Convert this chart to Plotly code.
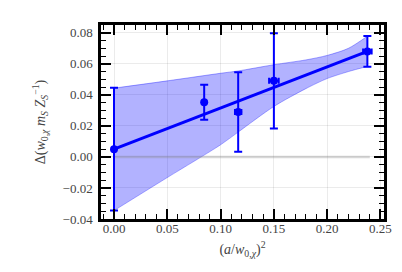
import plotly.graph_objects as go

# data points
x_pts = [0.0, 0.0846, 0.1165, 0.150, 0.2377]
y_pts = [0.005, 0.0352, 0.029, 0.049, 0.068]
y_err = [0.0395, 0.0113, 0.0256, 0.0307, 0.0099]
x_err = [0.0, 0.0, 0.003, 0.0045, 0.004]

# fit line
fit_x = [0.0, 0.2377]
fit_y = [0.005, 0.068]

# fit band
band_x = [0.0, 0.05, 0.10, 0.1165, 0.15, 0.18, 0.20, 0.22, 0.2377]
band_hi = [0.0443, 0.0490, 0.0539, 0.0554, 0.0594, 0.0625, 0.0654, 0.0700, 0.0778]
band_lo = [-0.0346, -0.0133, 0.0078, 0.0160, 0.0325, 0.0440, 0.0505, 0.0550, 0.0583]

# zero reference line
zero_x = [0.0, 0.24]
zero_y = [0.0, 0.0]

x_range = [-0.0122, 0.2533]
y_range = [-0.04, 0.085]

BLUE = "#0000ff"
FONT = "Liberation Serif, DejaVu Serif, serif"

fig = go.Figure()

fig.add_trace(go.Scatter(x=band_x, y=band_lo, mode="lines",
                         line=dict(color="rgba(0,0,255,0.3)", width=1,
                                   shape="spline", smoothing=0.8),
                         showlegend=False, hoverinfo="skip"))
fig.add_trace(go.Scatter(x=band_x, y=band_hi, mode="lines", fill="tonexty",
                         fillcolor="rgba(0,0,255,0.3)",
                         line=dict(color="rgba(0,0,255,0.35)", width=1,
                                   shape="spline", smoothing=0.8),
                         showlegend=False, hoverinfo="skip"))
fig.add_trace(go.Scatter(x=zero_x, y=zero_y, mode="lines",
                         line=dict(color="rgba(140,140,140,0.35)", width=2.5),
                         showlegend=False, hoverinfo="skip"))
fig.add_trace(go.Scatter(x=fit_x, y=fit_y, mode="lines",
                         line=dict(color=BLUE, width=3),
                         showlegend=False))
fig.add_trace(go.Scatter(x=x_pts, y=y_pts, mode="markers",
                         marker=dict(color=BLUE, size=8),
                         error_y=dict(type="data", array=y_err, color=BLUE,
                                      thickness=2, width=4),
                         error_x=dict(type="data", array=x_err, color=BLUE,
                                      thickness=2, width=3),
                         showlegend=False))

axis_common = dict(
    showline=True, linecolor="black", linewidth=2.5, mirror="ticks",
    ticks="inside", tickcolor="black", tickwidth=1.5, ticklen=10,
    showgrid=True, gridcolor="rgba(0,0,0,0.08)", gridwidth=1,
    zeroline=False,
    tickfont=dict(family=FONT, size=13, color="#444"),
)

fig.update_xaxes(range=x_range, dtick=0.05, tick0=0, tickformat=".2f",
                 ticklabelstandoff=-4,
                 minor=dict(dtick=0.01, ticks="inside", ticklen=5,
                            tickcolor="black", tickwidth=1.2, showgrid=False),
                 title=dict(text="(<i>a</i>/<i>w</i><sub>0,<i>χ</i></sub>)<sup>2</sup>",
                            font=dict(family=FONT, size=14, color="#444"),
                            standoff=9),
                 **axis_common)
fig.update_yaxes(range=y_range, dtick=0.02, tick0=0, tickformat=".2f",
                 ticklabelstandoff=3,
                 minor=dict(dtick=0.005, ticks="inside", ticklen=5,
                            tickcolor="black", tickwidth=1.2, showgrid=False),
                 title=dict(text="Δ(<i>w</i><sub>0,<i>χ</i></sub> <i>m</i><sub><i>S</i></sub> <i>Z</i><sub><i>S</i></sub><sup>−1</sup>)",
                            font=dict(family=FONT, size=14, color="#444"),
                            standoff=14),
                 **axis_common)

fig.update_layout(
    width=402, height=272,
    margin=dict(l=93, r=26, t=17, b=61),
    plot_bgcolor="white", paper_bgcolor="white",
    font=dict(family=FONT),
)

fig.write_html("out.html")
